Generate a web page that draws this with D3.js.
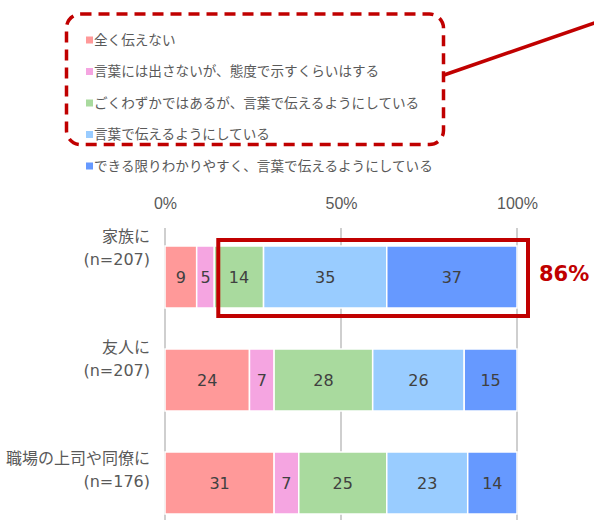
<!DOCTYPE html>
<html>
<head>
<meta charset="utf-8">
<script src="https://cdn.jsdelivr.net/npm/d3@7"></script>
<style>
  body { margin: 0; background: #fff; }
  svg { display: block; font-family: "DejaVu Sans", "Noto Sans CJK JP", sans-serif; }
</style>
</head>
<body>
<svg id="chart" width="594" height="520"></svg>
<script>
// categories and their sample sizes
let categories = ["家族に", "友人に", "職場の上司や同僚に"];
let sampleSizes = ["(n=207)", "(n=207)", "(n=176)"];

// answer options (legend order = stacking order)
let seriesNames = [
    "全く伝えない",
    "言葉には出さないが、態度で示すくらいはする",
    "ごくわずかではあるが、言葉で伝えるようにしている",
    "言葉で伝えるようにしている",
    "できる限りわかりやすく、言葉で伝えるようにしている"
];
let seriesColors = ["#ff9999", "#f5a5e1", "#a9da9e", "#99ccff", "#6699ff"];

// percentages per category, one value per answer option
let family    = [9, 5, 14, 35, 37];
let friends   = [24, 7, 28, 26, 15];
let workplace = [31, 7, 25, 23, 14];

let xTicks = [0, 50, 100];

let rows = [family, friends, workplace];

let svg = d3.select("#chart");

let x = d3.scaleLinear().domain([0, 100]).range([165, 517]);
let y = d3.scaleBand().domain(categories).range([246, 514]).paddingInner(0.398).paddingOuter(0);
// Excel puts the two-line labels a little above the band centre
let labelY = d3.scalePoint().domain(categories).range([247.5, 469.5]);
let legendY = d3.scalePoint().domain(seriesNames).range([40, 166]);

// gridlines
svg.append("g")
   .selectAll("line")
   .data(xTicks).enter()
   .append("line")
   .attr("x1", d => x(d)).attr("x2", d => x(d))
   .attr("y1", 228).attr("y2", 520)
   .attr("stroke", "#bfbfbf")
   .attr("stroke-width", 1.5);

// axis labels at the top
let axis = svg.append("g")
   .attr("transform", "translate(0,209)")
   .call(d3.axisTop(x).tickValues(xTicks).tickSize(0).tickPadding(0).tickFormat(d => d + "%"));
axis.select(".domain").remove();
axis.selectAll("text")
    .attr("font-family", null)
    .attr("font-size", 16)
    .attr("fill", "#595959");

// stacked bars
let stacked = rows.map((vals, i) => {
    let acc = 0;
    return vals.map((v, j) => {
        let seg = {cat: categories[i], s: j, v: v, x0: acc, x1: acc + v};
        acc += v;
        return seg;
    });
});

let bars = svg.append("g")
   .selectAll("g")
   .data(stacked).enter()
   .append("g");

bars.selectAll("rect")
    .data(d => d).enter()
    .append("rect")
    .attr("x", d => x(d.x0))
    .attr("y", d => y(d.cat))
    .attr("width", d => x(d.x1) - x(d.x0))
    .attr("height", y.bandwidth())
    .attr("fill", d => seriesColors[d.s])
    .attr("stroke", "#fff")
    .attr("stroke-width", 1.5);

bars.selectAll("text")
    .data(d => d).enter()
    .append("text")
    .attr("x", d => (x(d.x0) + x(d.x1)) / 2)
    .attr("y", d => y(d.cat) + y.bandwidth() / 2)
    .attr("dy", "0.36em")
    .attr("text-anchor", "middle")
    .attr("font-size", 16)
    .attr("fill", "#404040")
    .text(d => d.v);

// category labels
let labels = svg.append("g")
   .selectAll("text")
   .data(categories).enter()
   .append("text")
   .attr("text-anchor", "end")
   .attr("font-size", 16)
   .attr("fill", "#595959");
labels.append("tspan")
      .attr("x", 150)
      .attr("y", d => labelY(d) - 11.5)
      .attr("dy", "0.36em")
      .text(d => d);
labels.append("tspan")
      .attr("x", 150)
      .attr("y", d => labelY(d) + 11.5)
      .attr("dy", "0.36em")
      .text((d, i) => sampleSizes[i]);

// legend
let legend = svg.append("g")
   .selectAll("g")
   .data(seriesNames).enter()
   .append("g")
   .attr("transform", d => `translate(86,${legendY(d)})`);
legend.append("rect")
      .attr("x", 0).attr("y", -3.5)
      .attr("width", 7).attr("height", 7)
      .attr("fill", (d, i) => seriesColors[i]);
legend.append("text")
      .attr("x", 8)
      .attr("dy", "0.36em")
      .attr("font-size", 13.6)
      .attr("fill", "#595959")
      .text(d => d);

// annotation: dashed box round the first four legend entries plus pointer line
let red = "#c00000";
let boxTop = legendY(seriesNames[0]) - 26,
    boxBottom = legendY(seriesNames[3]) + 10;
svg.append("rect")
   .attr("x", 66.5).attr("y", boxTop)
   .attr("width", 443.5 - 66.5).attr("height", boxBottom - boxTop)
   .attr("rx", 14).attr("ry", 14)
   .attr("fill", "none")
   .attr("stroke", red)
   .attr("stroke-width", 3.5)
   .attr("stroke-dasharray", "11,7");
svg.append("line")
   .attr("x1", 444).attr("y1", 75)
   .attr("x2", 600).attr("y2", 21)
   .attr("stroke", red)
   .attr("stroke-width", 3.5);

// annotation: solid box round the last three family segments
let fam = stacked[0];
let share = d3.sum(fam.slice(2), d => d.v);
svg.append("rect")
   .attr("x", x(fam[2].x0) + 4)
   .attr("y", y(categories[0]) - 6)
   .attr("width", x(100) + 11 - (x(fam[2].x0) + 4))
   .attr("height", y.bandwidth() + 14)
   .attr("fill", "none")
   .attr("stroke", red)
   .attr("stroke-width", 4);
svg.append("text")
   .attr("x", x(100) + 22)
   .attr("y", y(categories[0]) + y.bandwidth() / 2 - 4)
   .attr("dy", "0.36em")
   .attr("font-size", 21)
   .attr("font-weight", "bold")
   .attr("fill", red)
   .text(share + "%");
</script>
</body>
</html>
